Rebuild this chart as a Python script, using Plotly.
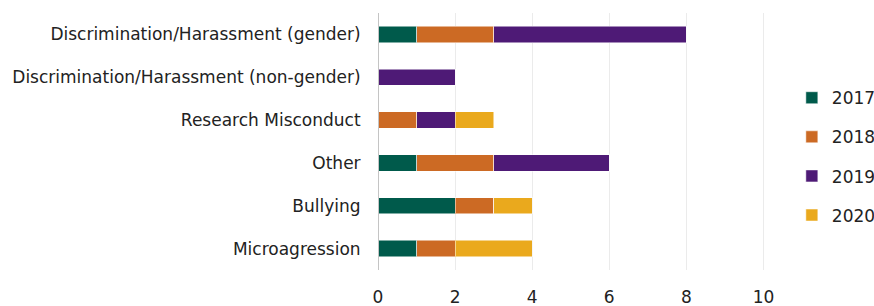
import plotly.graph_objects as go

categories = ["Discrimination/Harassment (gender)", "Discrimination/Harassment (non-gender)",
              "Research Misconduct", "Other", "Bullying", "Microagression"]
years = ["2017", "2018", "2019", "2020"]
v2017 = [1, 0, 0, 1, 2, 1]
v2018 = [2, 0, 1, 2, 1, 1]
v2019 = [5, 2, 1, 3, 0, 0]
v2020 = [0, 0, 1, 0, 1, 2]
colors = ["#005a4b", "#cc6a24", "#4e1a76", "#eaa91d"]
x_ticks = [0, 2, 4, 6, 8, 10]

fig = go.Figure()
for name, vals, col in zip(years, [v2017, v2018, v2019, v2020], colors):
    fig.add_trace(go.Bar(
        y=categories, x=vals, name=name, orientation="h", legendgroup=name,
        marker=dict(color=col, line=dict(color="rgba(255,255,255,0.5)", width=1)),
        width=0.38,
    ))

fig.update_layout(
    barmode="stack",
    width=874, height=306,
    margin=dict(l=378, r=72, t=13, b=36, autoexpand=False),
    plot_bgcolor="white", paper_bgcolor="white",
    font=dict(family="DejaVu Sans, sans-serif", size=17, color="#222222"),
    legend=dict(xref="container", yref="container", x=0.906, y=0.488,
                xanchor="left", yanchor="middle",
                font=dict(size=17), tracegroupgap=14, itemwidth=30,
                traceorder="grouped"),
)
fig.update_xaxes(range=[0, 11.0], tickvals=x_ticks, showgrid=True, gridcolor="#ebebeb",
                 gridwidth=1, zeroline=False, showline=False, automargin=False,
                 ticks="outside", ticklen=12, tickcolor="rgba(0,0,0,0)",
                 tickfont=dict(size=17))
fig.update_yaxes(showline=False, automargin=False,
                 ticks="outside", ticklen=13, tickcolor="rgba(0,0,0,0)", range=[5.5, -0.5],
                 tickfont=dict(size=17))
fig.add_shape(type="line", xref="x", yref="paper", x0=0, x1=0, y0=0, y1=1,
              line=dict(color="#c4c4c4", width=2))

fig.write_html("out.html", config={"displayModeBar": False},
               post_script="document.body.style.margin='0px';")
